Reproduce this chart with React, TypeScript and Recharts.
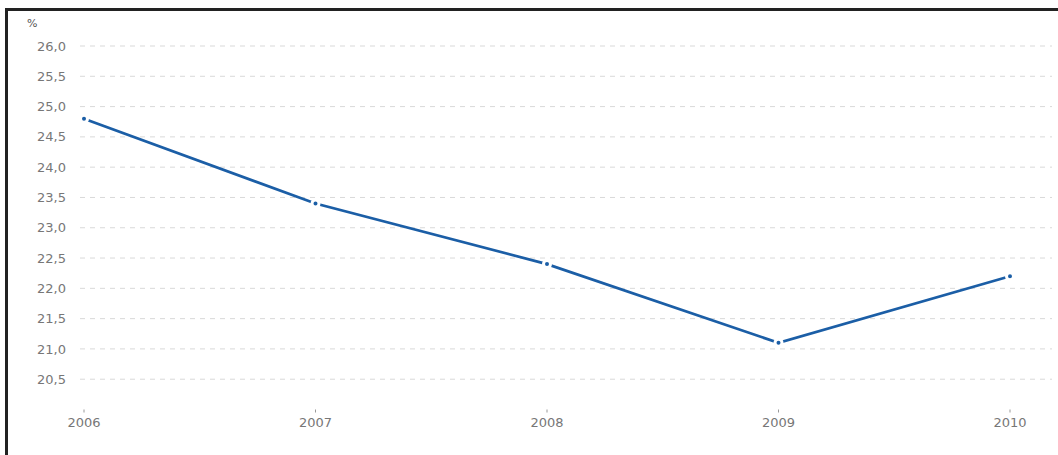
import React from "react";
import { LineChart, Line, XAxis, YAxis, ReferenceLine } from "recharts";

const years = ["2006", "2007", "2008", "2009", "2010"];
const values = [24.8, 23.4, 22.4, 21.1, 22.2];
const yTicks = [20.5, 21, 21.5, 22, 22.5, 23, 23.5, 24, 24.5, 25, 25.5, 26];
const unitLabel = "%";

const data = years.map((y, i) => ({ year: y, value: values[i] }));

const FONT = "'DejaVu Sans', sans-serif";
const LINE = "#1b5ea6";

export default function App() {
  return (
    <div
      style={{
        position: "absolute",
        left: 0,
        top: 0,
        width: 1058,
        height: 455,
        overflow: "hidden",
        background: "#fff",
        fontFamily: FONT,
      }}
    >
      <div style={{ position: "absolute", left: 5, top: 8, right: 0, height: 3, background: "#222" }} />
      <div style={{ position: "absolute", left: 5, top: 8, width: 3, bottom: 0, background: "#222" }} />
      <div
        style={{
          position: "absolute",
          left: 27,
          top: 17,
          fontSize: 11,
          color: "#555",
          fontFamily: FONT,
        }}
      >
        {unitLabel}
      </div>
      <div style={{ position: "absolute", left: 0, top: 0 }}>
        <LineChart
          width={1058}
          height={455}
          data={data}
          margin={{ top: 46, right: 6, left: 0, bottom: 15.5 }}
        >
          {yTicks.map((t) => (
            <ReferenceLine
              key={t}
              y={t}
              stroke="#d9d9d9"
              strokeDasharray="5 5"
              ifOverflow="visible"
            />
          ))}
          <XAxis
            dataKey="year"
            axisLine={false}
            tickLine={{ stroke: "#999" }}
            tickSize={3}
            tickMargin={5}
            height={30}
            padding={{ left: 4, right: 42 }}
            tick={{ fill: "#777", fontSize: 13, fontFamily: FONT }}
            interval={0}
          />
          <YAxis
            domain={[20, 26]}
            ticks={yTicks}
            width={80}
            axisLine={false}
            tickLine={false}
            tickMargin={8}
            tick={{ fill: "#777", fontSize: 13, fontFamily: FONT }}
            tickFormatter={(v: number) => v.toFixed(1).replace(".", ",")}
          />
          <Line
            type="linear"
            dataKey="value"
            stroke={LINE}
            strokeWidth={2.7}
            dot={{ r: 3.5, fill: LINE, stroke: "#fff", strokeWidth: 3 }}
            activeDot={false}
            isAnimationActive={false}
          />
        </LineChart>
      </div>
    </div>
  );
}
